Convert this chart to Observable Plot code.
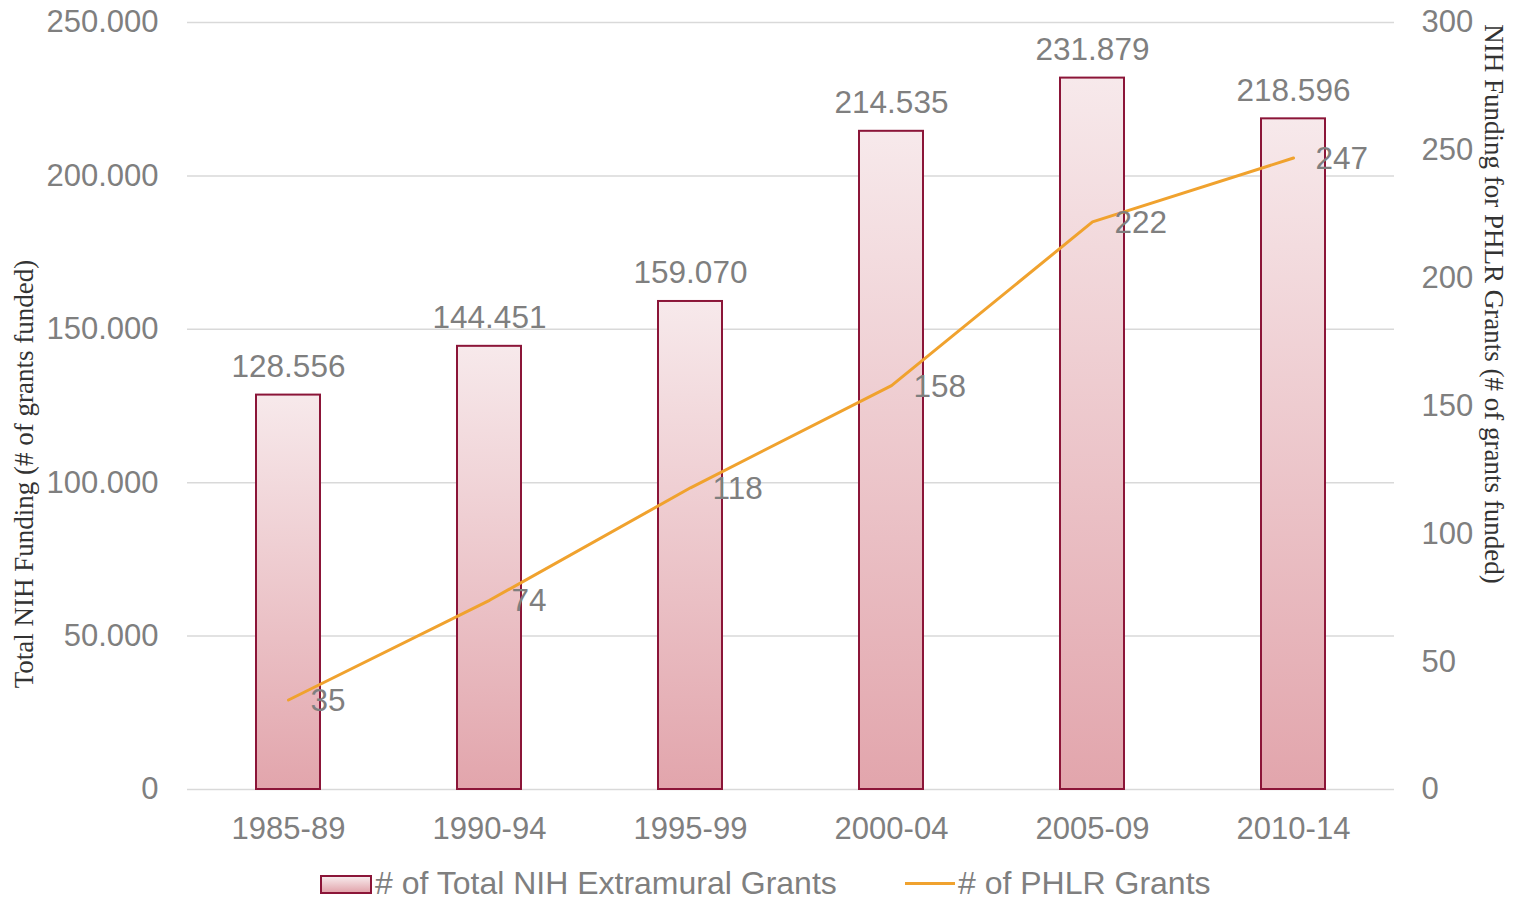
<!DOCTYPE html>
<html>
<head>
<meta charset="utf-8">
<script src="https://cdn.jsdelivr.net/npm/d3@7"></script>
<script src="https://cdn.jsdelivr.net/npm/@observablehq/plot@0.6"></script>
<style>
  html, body { margin: 0; padding: 0; background: #fff; }
  #wrap { position: relative; width: 1520px; height: 899px; }
  #legend { position: absolute; left: 0; top: 862px; width: 1520px; height: 42px;
    font-family: "Liberation Sans", Arial, sans-serif; font-size: 32px; color: #7f7f7f; }
  .li { position: absolute; top: 0; height: 42px; line-height: 42px; white-space: nowrap; }
  .sw-bar { position: absolute; top: 13px; width: 48px; height: 15px; border: 2px solid #8b1538;
    background: linear-gradient(#f7e9eb, #e2a5ac); }
  .sw-line { position: absolute; top: 20px; width: 50px; height: 3px; background: #f0a22e; }
</style>
</head>
<body>
<div id="wrap">
  <div id="chart"></div>
  <div id="legend"></div>
</div>
<script>
const periods = ["1985-89", "1990-94", "1995-99", "2000-04", "2005-09", "2010-14"];
const totalGrants = [128556, 144451, 159070, 214535, 231879, 218596];
const phlrGrants = [35, 74, 118, 158, 222, 247];
const leftTicks = [0, 50000, 100000, 150000, 200000, 250000];
const rightTicks = [0, 50, 100, 150, 200, 250, 300];
const seriesNames = ["# of Total NIH Extramural Grants", "# of PHLR Grants"];
const leftTitle = "Total NIH Funding (# of grants funded)";
const rightTitle = "NIH Funding for PHLR Grants (# of grants funded)";

const leftMax = 250000, rightMax = 300;
const k = leftMax / rightMax;

const data = periods.map((p, i) => ({period: p, total: totalGrants[i], phlr: phlrGrants[i], phlrScaled: phlrGrants[i] * k}));

const fmt = d3.formatLocale({thousands: ".", grouping: [3], decimal: ",", currency: ["", ""]}).format(",");

const sans = "'Liberation Sans', Arial, sans-serif";
const serif = "'Liberation Serif', 'Times New Roman', serif";

const plot = Plot.plot({
  width: 1520,
  height: 862,
  marginTop: 22,
  marginBottom: 73,
  marginLeft: 187,
  marginRight: 126,
  style: {fontFamily: sans, fontSize: "31px", color: "#7f7f7f", background: "white"},
  x: {domain: periods, paddingInner: 0.68, paddingOuter: 0.34},
  y: {domain: [0, leftMax]},
  marks: [
    Plot.gridY(leftTicks, {stroke: "#d9d9d9", strokeOpacity: 1, strokeWidth: 1.5}),
    Plot.axisY({ticks: leftTicks, tickFormat: fmt, tickSize: 0, tickPadding: 29, label: null, fontSize: 31}),
    Plot.axisY({anchor: "right", ticks: rightTicks.map(t => t * k), tickFormat: d => String(Math.round(d / k)), tickSize: 0, tickPadding: 27, label: null, fontSize: 31}),
    Plot.axisX({tickSize: 0, tickPadding: 27, label: null, fontSize: 31}),
    Plot.barY(data, {x: "period", y: "total", fill: "url(#barGrad)", stroke: "#8b1538", strokeWidth: 2}),
    Plot.line(data, {x: "period", y: "phlrScaled", stroke: "#f0a22e", strokeWidth: 3}),
    Plot.text(data, {x: "period", y: "total", text: d => fmt(d.total), lineAnchor: "bottom", dy: -18, fill: "#7f7f7f", fontSize: 31.5}),
    Plot.text(data, {x: "period", y: "phlrScaled", text: d => String(d.phlr), textAnchor: "start", dx: 22, dy: 1, fill: "#7f7f7f", fontSize: 31.5}),
    Plot.text([leftTitle], {frameAnchor: "left", textAnchor: "middle", text: d => d, rotate: -90, dx: -163, dy: 68, fill: "#333", fontFamily: serif, fontSize: 27}),
    Plot.text([rightTitle], {frameAnchor: "right", textAnchor: "middle", text: d => d, rotate: 90, dx: 99, dy: -102, fill: "#333", fontFamily: serif, fontSize: 27})
  ]
});

const svg = d3.select(plot);
const defs = svg.insert("defs", ":first-child");
const g = defs.append("linearGradient").attr("id", "barGrad").attr("x1", 0).attr("y1", 0).attr("x2", 0).attr("y2", 1);
g.append("stop").attr("offset", "0%").attr("stop-color", "#f7e9eb");
g.append("stop").attr("offset", "100%").attr("stop-color", "#e2a5ac");

document.getElementById("chart").appendChild(plot);

const legend = document.getElementById("legend");
legend.innerHTML = `
  <div class="sw-bar" style="left:320px"></div>
  <div class="li" style="left:375px">${seriesNames[0]}</div>
  <div class="sw-line" style="left:905px"></div>
  <div class="li" style="left:958px">${seriesNames[1]}</div>`;
</script>
</body>
</html>
